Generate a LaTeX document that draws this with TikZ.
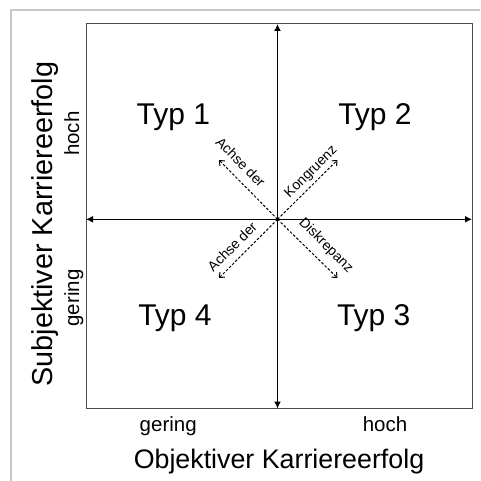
\documentclass[tikz,border=0pt]{standalone}
\usepackage{fontspec}
\setmainfont{Liberation Sans}
\usetikzlibrary{arrows.meta}
\begin{document}
\begin{tikzpicture}[x=1pt,y=-1pt,
  frameline/.style={draw=black!22,line width=1.6pt},
  boxline/.style={draw=black!70,line width=1pt},
  axisline/.style={draw=black,line width=1.5pt,-{Latex[length=7pt,width=7pt]}},
  diagline/.style={draw=black,line width=1pt,dash pattern=on 2.6pt off 1.8pt,-{Straight Barb[length=4pt,width=7pt]}},
  typlabel/.style={inner sep=0pt,anchor=base,font=\fontsize{30}{36}\selectfont},
  ticklabel/.style={inner sep=0pt,anchor=base,font=\fontsize{20.5}{24}\selectfont},
  titlelabel/.style={inner sep=0pt,anchor=base,font=\fontsize{26.8}{32}\selectfont},
  diaglabel/.style={inner sep=0pt,anchor=center,font=\fontsize{14}{17}\selectfont}]
\useasboundingbox (0,0) rectangle (480,481);
% outer frame (top and left edges only)
\coordinate (FTL) at (11,10);
\coordinate (FTR) at (480,10);
\coordinate (FBL) at (11,481);
\draw[frameline] (FTR) -- (FTL) -- (FBL);
% inner box
\coordinate (BTL) at (86,24);
\coordinate (BBR) at (472,408.5);
\draw[boxline] (BTL) rectangle (BBR);
% axes
\coordinate (O) at (277.5,219.3);
\coordinate (L) at (86,219.3);
\coordinate (R) at (472,219.3);
\coordinate (T) at (277.5,24);
\coordinate (B) at (277.5,408.5);
\draw[axisline,{Latex[length=7pt,width=7pt]}-{Latex[length=7pt,width=7pt]}] (L) -- (R);
\draw[axisline,{Latex[length=7pt,width=7pt]}-{Latex[length=7pt,width=7pt]}] (B) -- (T);
% diagonals
\coordinate (UL) at (219,160);
\coordinate (UR) at (337.5,160);
\coordinate (LL) at (219,278);
\coordinate (LR) at (337.5,278);
\draw[diagline] (O) -- (UL);
\draw[diagline] (O) -- (UR);
\draw[diagline] (O) -- (LL);
\draw[diagline] (O) -- (LR);
% diagonal labels
\node[diaglabel,rotate=-45] (dl1) at (240.8,162) {Achse der};
\node[diaglabel,rotate=45] (dl2) at (311.3,172.2) {Kongruenz};
\node[diaglabel,rotate=45] (dl3) at (232.2,246.7) {Achse der};
\node[diaglabel,rotate=-45] (dl4) at (325.8,245.8) {Diskrepanz};
% type labels
\node[typlabel] (t1) at (173.3,124.3) {Typ 1};
\node[typlabel] (t2) at (375,124.3) {Typ 2};
\node[typlabel] (t4) at (175,325) {Typ 4};
\node[typlabel] (t3) at (373.7,325) {Typ 3};
% bottom axis labels
\node[ticklabel] (bg) at (168.2,431.7) {gering};
\node[ticklabel] (bh) at (385,431.7) {hoch};
\node[titlelabel] (bt) at (279,468.3) {Objektiver Karriereerfolg};
% left axis labels
\node[ticklabel,rotate=90] (lh) at (79,133.7) {hoch};
\node[ticklabel,rotate=90] (lg) at (79,298) {gering};
\node[titlelabel,rotate=90,font=\fontsize{28.8}{34}\selectfont] (lt) at (52.7,224) {Subjektiver Karriereerfolg};
\end{tikzpicture}
\end{document}
